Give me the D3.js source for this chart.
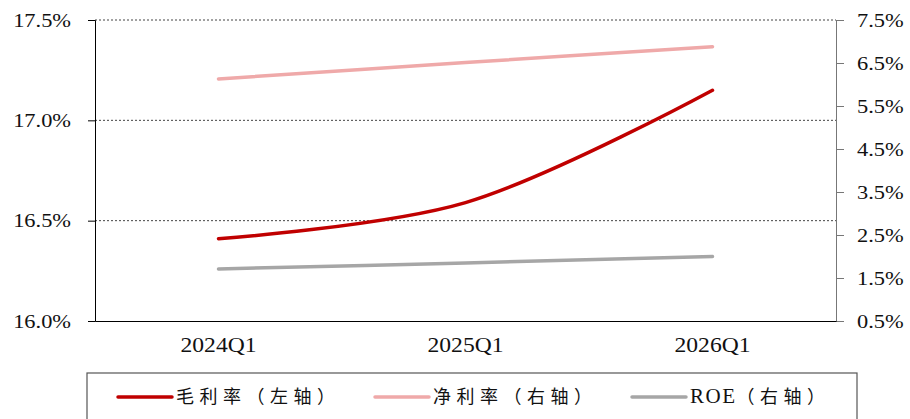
<!DOCTYPE html>
<html>
<head>
<meta charset="utf-8">
<script src="https://cdn.jsdelivr.net/npm/d3@7"></script>
<style>
  body { margin: 0; background: #fff; }
  text { font-family: "Liberation Serif", "Noto Sans CJK SC", serif; fill: #111; }
</style>
</head>
<body>
<div id="chart"></div>
<script>
// data
var quarters = ["2024Q1", "2025Q1", "2026Q1"];
var grossMargin = [16.41, 16.59, 17.15];   // left axis
var netMargin = [6.13, 6.51, 6.88];        // right axis
var roe = [1.71, 1.85, 2.0];               // right axis
var leftTicks = [16.0, 16.5, 17.0, 17.5];
var rightTicks = [0.5, 1.5, 2.5, 3.5, 4.5, 5.5, 6.5, 7.5];
var legendLatin = ["", "", "ROE"];
var legendNames = ["毛利率（左轴）", "净利率（右轴）", "（右轴）"];

var svgWidth = 910;
var svgHeight = 419;

var svg = d3.select("#chart")
  .append("svg")
  .attr("width", svgWidth)
  .attr("height", svgHeight);

var plotLeft = 95, plotRight = 836, plotTop = 20, plotBottom = 321;

var xScale = d3.scaleBand()
  .domain(quarters)
  .range([plotLeft, plotRight]);

var yLeft = d3.scaleLinear().domain([16.0, 17.5]).range([plotBottom, plotTop]);
var yRight = d3.scaleLinear().domain([0.5, 7.5]).range([plotBottom, plotTop]);

var stretch = 1.18;

// dotted grid lines
svg.append("g")
  .selectAll("line")
  .data(leftTicks.filter(d => d > 16.0))
  .enter()
  .append("line")
  .attr("x1", plotLeft)
  .attr("x2", plotRight)
  .attr("y1", d => yLeft(d))
  .attr("y2", d => yLeft(d))
  .attr("stroke", "#444")
  .attr("stroke-width", 1)
  .attr("stroke-dasharray", "2,2");

// left axis
var leftAxis = svg.append("g")
  .attr("transform", `translate(${plotLeft},0)`)
  .call(d3.axisLeft(yLeft).tickValues(leftTicks).tickSize(7).tickFormat(d => d.toFixed(1) + "%"));
leftAxis.select(".domain").attr("stroke", "#000");
leftAxis.selectAll(".tick line").attr("stroke", "#000");
leftAxis.selectAll(".tick text")
  .attr("x", 0)
  .attr("dy", 0)
  .attr("transform", `translate(-24,6) scale(${stretch},1)`)
  .style("font-size", "19px")
  .style("font-family", "Liberation Serif")
  .attr("fill", "#111");

// right axis
var rightAxis = svg.append("g")
  .attr("transform", `translate(${plotRight},0)`)
  .call(d3.axisRight(yRight).tickValues(rightTicks).tickSize(8).tickFormat(d => d.toFixed(1) + "%"));
rightAxis.select(".domain").attr("stroke", "#777");
rightAxis.selectAll(".tick line").attr("stroke", "#777");
rightAxis.selectAll(".tick text")
  .attr("x", 0)
  .attr("dy", 0)
  .attr("transform", `translate(21,6) scale(${stretch},1)`)
  .style("font-size", "19px")
  .style("font-family", "Liberation Serif")
  .attr("fill", "#111");

// bottom axis
var bottomAxis = svg.append("g")
  .attr("transform", `translate(0,${plotBottom})`)
  .call(d3.axisBottom(xScale).tickSize(0));
bottomAxis.select(".domain").attr("stroke", "#000");
bottomAxis.selectAll(".tick text")
  .attr("y", 0)
  .attr("dy", 0)
  .attr("transform", `translate(0,31) scale(${stretch},1)`)
  .style("font-size", "20px")
  .style("font-family", "Liberation Serif")
  .attr("fill", "#111");

// lines
var series = [
  { values: grossMargin, scale: yLeft, color: "#C00000" },
  { values: netMargin, scale: yRight, color: "#EFA9A9" },
  { values: roe, scale: yRight, color: "#A6A6A6" }
];

series.forEach(function(s) {
  var line = d3.line()
    .x((d, i) => xScale(quarters[i]) + xScale.bandwidth() / 2)
    .y(d => s.scale(d))
    .curve(d3.curveCatmullRom);
  svg.append("path")
    .datum(s.values)
    .attr("d", line)
    .attr("fill", "none")
    .attr("stroke", s.color)
    .attr("stroke-width", 3.5)
    .attr("stroke-linecap", "round");
});

// legend
svg.append("rect")
  .attr("x", 87)
  .attr("y", 373)
  .attr("width", 770)
  .attr("height", 60)
  .attr("fill", "none")
  .attr("stroke", "#555")
  .attr("stroke-width", 1.2);

var legendX = [118, 375, 632];
var legend = svg.selectAll(".legend")
  .data(series)
  .enter()
  .append("g")
  .attr("transform", (d, i) => `translate(${legendX[i]},397)`);

legend.append("line")
  .attr("x1", 0)
  .attr("x2", 54)
  .attr("stroke", d => d.color)
  .attr("stroke-width", 3.5)
  .attr("stroke-linecap", "round");

var legendText = legend.append("text")
  .attr("x", 58)
  .attr("y", 6);

legendText.append("tspan")
  .style("font-size", "21px")
  .style("letter-spacing", "1.5px")
  .text((d, i) => legendLatin[i]);

legendText.append("tspan")
  .style("font-size", "18px")
  .style("letter-spacing", "5.5px")
  .text((d, i) => legendNames[i]);
</script>
</body>
</html>
